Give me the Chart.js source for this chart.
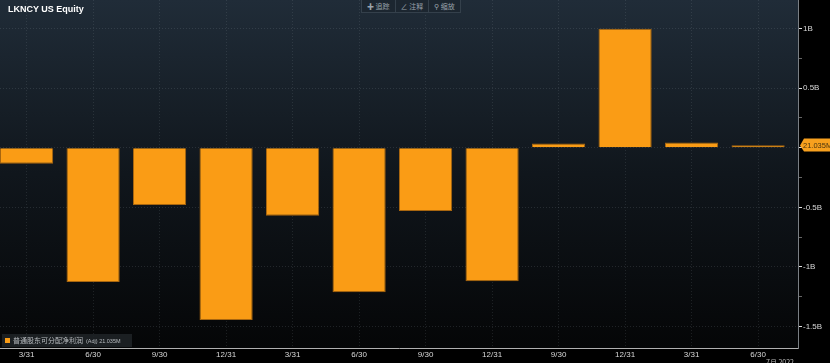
<!DOCTYPE html>
<html>
<head>
<meta charset="utf-8">
<script src="https://cdn.jsdelivr.net/npm/chart.js@4.4.1/dist/chart.umd.min.js"></script>
<style>
html, body { margin: 0; padding: 0; background: #000; overflow: hidden; }
#wrap { position: relative; width: 830px; height: 363px; }
#myChart { position: absolute; left: 0; top: 0; }
.title { position: absolute; left: 8px; top: 4px; font: bold 9px "Liberation Sans", sans-serif; color: #fff; }
.toolbar { position: absolute; left: 361px; top: 0; height: 12px; display: flex; border: 1px solid #34404b; border-top: none; background: #1c2630; }
.toolbar span { font: 7px "Noto Sans CJK SC", sans-serif; color: #9aa3ab; padding: 0 5px; line-height: 12px; border-left: 1px solid #34404b; }
.toolbar span:first-child { border-left: none; }
.legend { position: absolute; left: 2px; top: 334px; height: 13px; width: 130px; background: rgba(30,34,38,0.9); }
.legend i { position: absolute; left: 3px; top: 4px; width: 5px; height: 5px; background: #fa9c15; }
.legend b { position: absolute; left: 11px; top: 0; font: normal 7px "Noto Sans CJK SC", sans-serif; line-height: 13px; color: #b8bcc0; white-space: nowrap; }
.legend b small { font: 5.5px "Liberation Sans", sans-serif; margin-left: 3px; }
.year { position: absolute; left: 766px; top: 357px; font: 7px "Noto Sans CJK SC", sans-serif; color: #bbb; }
</style>
</head>
<body>
<div id="wrap">
  <canvas id="myChart" width="830" height="363"></canvas>
  <div class="title">LKNCY US Equity</div>
  <div class="toolbar"><span>✚ 追踪</span><span>∠ 注释</span><span>⚲ 缩放</span></div>
  <div class="legend"><i></i><b>普通股东可分配净利润<small>(Adj) 21.035M</small></b></div>
  <div class="year">7月 2022</div>
</div>
<script>
// quarter-end labels and values (millions)
const periods = ['3/31', '6/30', '9/30', '12/31', '3/31', '6/30', '9/30', '12/31', '9/30', '12/31', '3/31', '6/30'];
const netProfitM = [-133, -1126, -480, -1445, -570, -1212, -530, -1120, 35, 999, 45, 21.035];
const yTicksM = [-1500, -1250, -1000, -750, -500, -250, 0, 250, 500, 750, 1000];
const lastLabel = '21.035M';

const barColor = '#fa9c15';

Chart.defaults.font.family = '"Liberation Sans", sans-serif';

const bgPlugin = {
    id: 'bg',
    beforeDraw(chart) {
        const ctx = chart.ctx;
        const a = chart.chartArea;
        ctx.save();
        ctx.fillStyle = '#000';
        ctx.fillRect(0, 0, chart.width, chart.height);
        const g = ctx.createLinearGradient(0, a.top, 0, a.bottom);
        g.addColorStop(0, '#202c38');
        g.addColorStop(0.5, '#10161c');
        g.addColorStop(1, '#050607');
        ctx.fillStyle = g;
        ctx.fillRect(a.left, a.top, a.right - a.left, a.bottom - a.top);
        ctx.restore();
    }
};

const lastValuePlugin = {
    id: 'lastValue',
    afterDraw(chart) {
        const ctx = chart.ctx;
        const y = Math.round(chart.scales.y.getPixelForValue(netProfitM[netProfitM.length - 1])) + 0.5;
        const x = chart.chartArea.right + 2;
        ctx.save();
        ctx.fillStyle = '#f7a01e';
        ctx.beginPath();
        ctx.moveTo(x, y);
        ctx.lineTo(x + 4, y - 7);
        ctx.lineTo(830, y - 7);
        ctx.lineTo(830, y + 6);
        ctx.lineTo(x + 4, y + 6);
        ctx.closePath();
        ctx.fill();
        ctx.fillStyle = '#4a3510';
        ctx.font = '7.5px "Liberation Sans"';
        ctx.textBaseline = 'middle';
        ctx.fillText(lastLabel, x + 3, y);
        ctx.restore();
    }
};

function noPad(scale) {
    scale.paddingTop = 0;
    scale.paddingBottom = 0;
    scale.paddingLeft = 0;
    scale.paddingRight = 0;
}

const ctx = document.getElementById('myChart').getContext('2d');
const myChart = new Chart(ctx, {
    type: 'bar',
    data: {
        datasets: [{
            label: '普通股东可分配净利润',
            data: periods.map((p, i) => ({ x: i, y: netProfitM[i] })),
            backgroundColor: barColor,
            borderColor: '#a8660f',
            borderWidth: 1,
            barPercentage: 0.8,
            categoryPercentage: 1
        }]
    },
    options: {
        responsive: false,
        animation: false,
        layout: { padding: 0 },
        plugins: {
            legend: { display: false },
            tooltip: { enabled: false }
        },
        scales: {
            x: {
                type: 'linear',
                offset: false,
                min: -0.4,
                max: 11.6,
                afterBuildTicks: scale => { scale.ticks = periods.map((p, i) => ({ value: i })); },
                afterFit: scale => { scale.height = 15; noPad(scale); },
                ticks: {
                    autoSkip: false,
                    maxRotation: 0,
                    padding: 2,
                    color: '#d8d8d8',
                    font: { size: 8 },
                    callback: v => periods[v]
                },
                grid: {
                    offset: false,
                    color: 'rgba(150,160,170,0.16)',
                    drawTicks: false
                },
                border: { display: true, color: '#b0b0b0', width: 1, dash: [1, 2] }
            },
            y: {
                position: 'right',
                min: -1680,
                max: 1240,
                afterBuildTicks: scale => { scale.ticks = yTicksM.map(v => ({ value: v })); },
                afterFit: scale => { scale.width = 32; noPad(scale); },
                ticks: {
                    padding: 1,
                    color: '#d8d8d8',
                    font: { size: 8 },
                    callback: v => (v % 500 === 0 && v !== 0) ? (v / 1000) + 'B' : ''
                },
                grid: {
                    color: c => c.tick && c.tick.value % 500 === 0 ? 'rgba(150,160,170,0.18)' : 'transparent',
                    tickColor: c => c.tick && c.tick.value % 500 === 0 ? '#e0e0e0' : '#666',
                    tickLength: 4
                },
                border: { display: true, color: '#7a7f84', width: 1, dash: [1, 2] }
            }
        }
    },
    plugins: [bgPlugin, lastValuePlugin]
});
</script>
</body>
</html>
